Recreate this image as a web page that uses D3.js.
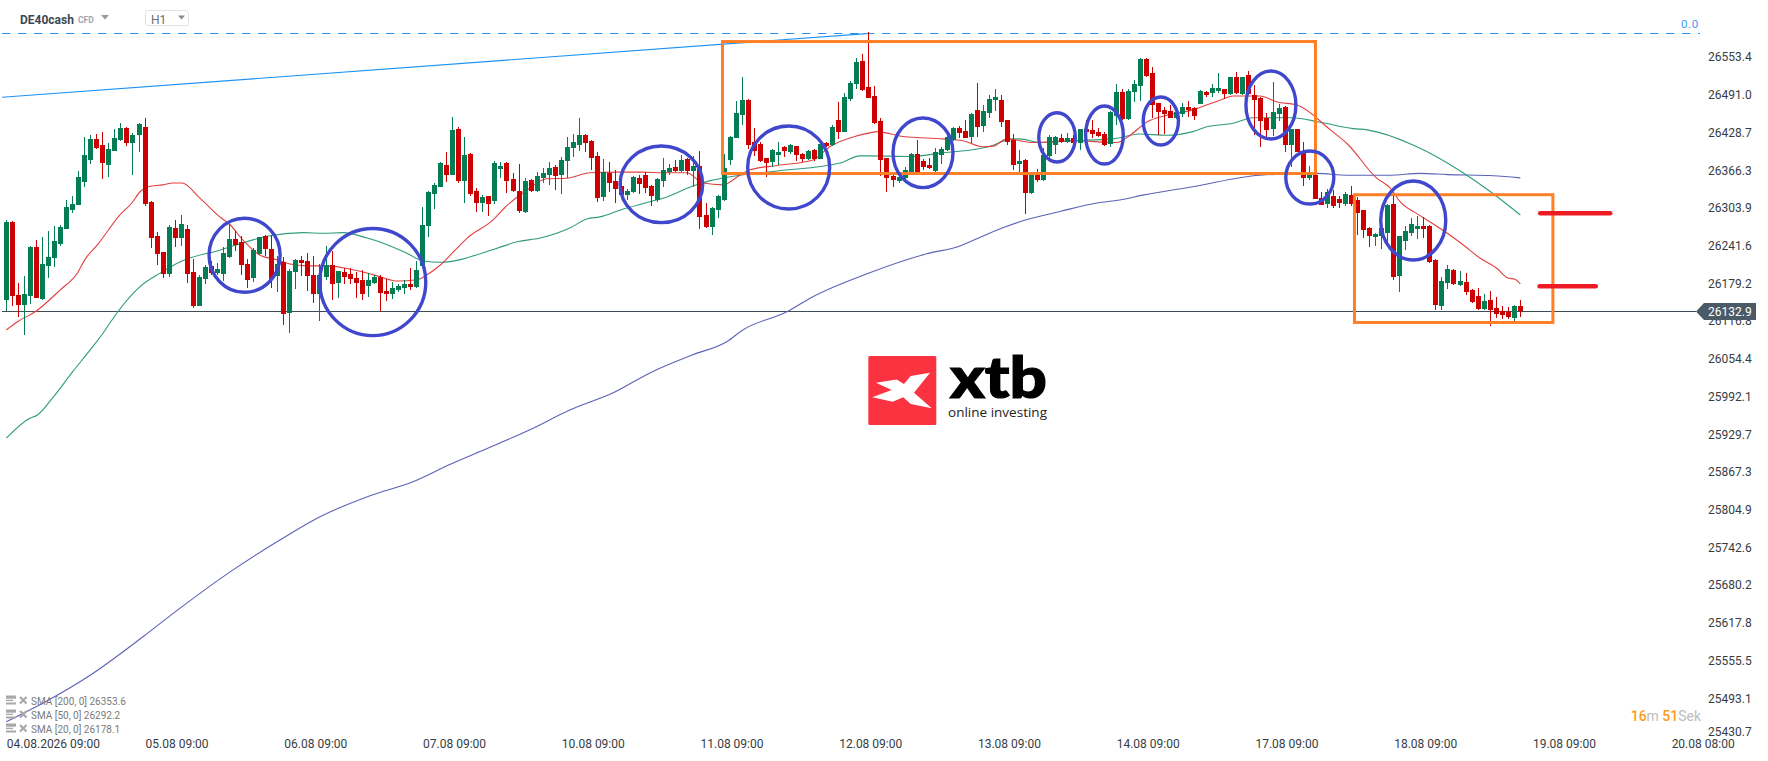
<!DOCTYPE html>
<html><head><meta charset="utf-8"><title>DE40cash</title>
<script src="https://cdnjs.cloudflare.com/ajax/libs/d3/7.8.5/d3.min.js"></script>
<style>html,body{margin:0;padding:0;background:#fff;overflow:hidden}svg{display:block;font-family:Roboto,sans-serif}</style>
</head><body><svg id="c" width="1768" height="761"></svg>
<script>
const open=[
26152,26281,26160,26144,26158,26239,26153,26208,26221,26244,
26269,26300,26309,26347,26383,26418,26408,26375,26398,26416,
26436,26411,26425,26437,26314,26257,26231,26194,26271,26254,
26269,26198,26142,26186,26208,26196,26194,26222,26252,26248,
26211,26188,26227,26257,26236,26191,26214,26130,26198,26218,
26216,26193,26161,26190,26210,26180,26198,26194,26188,26185,
26175,26180,26190,26166,26161,26168,26171,26178,26173,26208,
26274,26327,26338,26375,26358,26434,26348,26393,26332,26312,
26323,26315,26368,26378,26352,26332,26297,26350,26332,26353,
26358,26372,26358,26381,26403,26408,26425,26414,26390,26322,
26362,26348,26340,26325,26330,26353,26358,26340,26317,26348,
26363,26372,26365,26385,26365,26373,26292,26272,26300,26317,
26383,26420,26458,26482,26413,26410,26386,26380,26392,26405,
26397,26406,26393,26385,26400,26385,26411,26408,26449,26430,
26484,26509,26547,26504,26489,26448,26386,26357,26348,26353,
26362,26393,26381,26375,26365,26392,26400,26416,26436,26431,
26421,26466,26439,26461,26482,26482,26449,26416,26376,26383,
26328,26360,26350,26390,26408,26420,26413,26420,26411,26434,
26433,26430,26426,26410,26456,26496,26451,26496,26505,26550,
26527,26477,26466,26464,26453,26459,26471,26469,26476,26496,
26494,26497,26500,26492,26520,26492,26524,26491,26486,26453,
26434,26459,26471,26408,26434,26397,26353,26358,26320,26310,
26323,26319,26310,26325,26317,26300,26271,26256,26257,26262,
26310,26191,26249,26262,26269,26274,26274,26218,26142,26180,
26201,26176,26181,26168,26158,26137,26152,26138,26133,26132,
26122,26142];
const high=[
26284,26283,26180,26191,26241,26251,26255,26265,26274,26276,
26317,26323,26365,26421,26425,26426,26430,26411,26435,26444,
26437,26428,26444,26453,26315,26264,26231,26276,26284,26292,
26276,26220,26193,26210,26216,26213,26239,26277,26265,26257,
26220,26238,26256,26259,26259,26224,26222,26203,26220,26224,
26229,26224,26211,26241,26233,26200,26205,26205,26198,26201,
26196,26193,26193,26186,26181,26178,26185,26205,26216,26305,
26332,26345,26380,26397,26454,26437,26421,26394,26337,26325,
26324,26381,26380,26380,26362,26376,26353,26352,26363,26370,
26380,26375,26388,26421,26426,26453,26426,26416,26397,26385,
26380,26367,26350,26335,26357,26358,26363,26342,26353,26386,
26376,26383,26392,26386,26390,26398,26312,26305,26325,26393,
26423,26481,26520,26484,26436,26413,26387,26401,26413,26406,
26409,26407,26395,26399,26401,26411,26413,26441,26479,26494,
26514,26552,26558,26595,26505,26453,26387,26358,26362,26372,
26394,26416,26385,26386,26403,26405,26425,26437,26439,26449,
26461,26510,26474,26491,26500,26491,26450,26426,26400,26384,
26359,26368,26403,26425,26422,26426,26428,26425,26435,26449,
26449,26436,26430,26464,26509,26500,26500,26515,26551,26552,
26537,26478,26471,26474,26464,26477,26481,26470,26499,26497,
26509,26527,26501,26521,26529,26521,26530,26507,26487,26461,
26512,26476,26472,26435,26435,26413,26373,26362,26330,26335,
26333,26323,26330,26340,26322,26301,26272,26262,26284,26310,
26323,26258,26274,26287,26290,26289,26275,26219,26190,26210,
26203,26199,26196,26170,26171,26161,26166,26156,26142,26140,
26143,26152];
const low=[
26133,26142,26123,26094,26145,26155,26152,26188,26206,26241,
26269,26295,26309,26338,26376,26401,26352,26355,26398,26414,
26406,26359,26397,26307,26238,26210,26188,26190,26239,26241,
26180,26138,26142,26178,26193,26193,26183,26221,26233,26193,
26171,26181,26226,26224,26171,26165,26110,26097,26170,26191,
26166,26147,26117,26185,26152,26155,26178,26178,26155,26152,
26156,26178,26133,26150,26153,26165,26161,26168,26172,26207,
26255,26302,26338,26347,26358,26345,26312,26323,26297,26297,
26290,26310,26353,26328,26330,26295,26296,26331,26331,26345,
26342,26333,26327,26353,26388,26398,26397,26367,26314,26315,
26330,26312,26322,26317,26328,26327,26328,26307,26314,26338,
26358,26363,26363,26358,26338,26269,26271,26259,26287,26316,
26375,26419,26441,26401,26390,26380,26355,26372,26375,26388,
26393,26381,26380,26383,26381,26384,26405,26406,26418,26429,
26481,26500,26498,26485,26443,26357,26330,26338,26345,26352,
26361,26362,26367,26369,26363,26376,26398,26414,26420,26419,
26411,26421,26430,26453,26464,26437,26408,26367,26362,26294,
26327,26347,26349,26386,26393,26411,26411,26410,26400,26428,
26420,26421,26407,26405,26441,26449,26449,26479,26481,26521,
26453,26425,26426,26452,26451,26454,26454,26449,26475,26487,
26487,26494,26484,26491,26493,26491,26491,26425,26405,26420,
26423,26448,26397,26372,26396,26340,26350,26318,26308,26304,
26304,26304,26307,26307,26259,26254,26239,26241,26236,26243,
26185,26165,26234,26257,26252,26254,26213,26135,26135,26170,
26177,26175,26160,26147,26135,26135,26108,26122,26120,26120,
26117,26123];
const close=[
26281,26158,26144,26161,26239,26155,26211,26222,26249,26272,
26305,26310,26355,26392,26418,26403,26378,26401,26420,26436,
26411,26425,26442,26310,26254,26227,26194,26272,26254,26277,
26194,26142,26190,26206,26196,26203,26229,26252,26243,26210,
26185,26234,26255,26236,26186,26211,26128,26199,26218,26213,
26191,26161,26193,26210,26178,26199,26190,26186,26180,26161,
26185,26190,26163,26161,26171,26175,26178,26173,26201,26276,
26330,26342,26378,26358,26433,26348,26392,26327,26312,26322,
26310,26378,26373,26348,26332,26299,26348,26332,26357,26362,
26370,26357,26383,26405,26413,26425,26411,26386,26320,26363,
26345,26335,26325,26332,26355,26343,26337,26323,26352,26367,
26370,26365,26383,26365,26373,26289,26272,26304,26323,26370,
26421,26461,26482,26408,26398,26381,26378,26400,26397,26398,
26408,26392,26385,26398,26385,26410,26406,26437,26430,26487,
26510,26545,26499,26486,26444,26383,26353,26350,26355,26367,
26393,26363,26372,26370,26397,26401,26421,26436,26428,26420,
26459,26437,26464,26484,26487,26446,26413,26375,26381,26328,
26358,26350,26392,26421,26421,26413,26420,26411,26434,26430,
26426,26423,26408,26462,26496,26451,26497,26509,26550,26522,
26474,26462,26459,26453,26462,26471,26466,26456,26497,26491,
26502,26502,26492,26520,26494,26520,26492,26482,26448,26433,
26462,26469,26408,26434,26397,26354,26360,26319,26309,26330,
26307,26312,26327,26310,26295,26267,26257,26261,26271,26309,
26190,26257,26265,26277,26274,26269,26214,26144,26183,26203,
26178,26183,26165,26148,26137,26150,26135,26128,26127,26123,
26142,26132.9];

const sma20Bar=[0,1.9,4.9,8.9,11.9,13,15.2,18.8,20.8,22.2,23.5,26,27.6,29.1,32.1,35.4,37.1,39.2,42,44.9,47,49.8,53.2,55.8,59.1,62,64.8,68.1,69.7,71.9,74.4,76.4,80.7,82.7,86.3,89.6,92.9,96.8,101.2,105.5,108.9,112.8,115.5,118.8,121.6,123.3,127.8,133.7,136.5,141,143.2,144.3,148.7,155.3,158.6,161.8,163.6,165.9,170.2,176.8,184.1,186.3,189.1,192.4,196.7,201.2,203.4,207.8,210.7,214,219.5,222.3,227.2,229.4,231.1,233.9,235.5,238.9,241.5,244.3,247.1,248.9,250.1,251];
const sma20=[26102,26116,26133,26168,26198,26218,26244,26292,26312,26331,26339,26342,26345,26345,26320,26289,26276,26251,26226,26218,26211,26208,26208,26205,26198,26190,26183,26185,26193,26209,26234,26254,26284,26305,26333,26352,26353,26362,26363,26363,26362,26362,26345,26342,26358,26367,26374,26383,26405,26423,26428,26430,26422,26418,26415,26405,26406,26418,26412,26415,26412,26424,26446,26457,26466,26482,26489,26489,26479,26474,26433,26410,26353,26337,26314,26294,26284,26262,26243,26221,26204,26188,26186,26178.1];
const sma50Bar=[0,3.9,5.1,7.7,11,13.9,16.4,17.2,22.2,25.5,29.1,35.4,40.9,43.2,49.2,52.5,55.8,59.8,62.4,66.4,69.1,71.9,81,84.7,88.5,93.5,96.3,98.4,101.7,106.7,109.5,113.8,116.7,121.1,127.8,138.2,141.5,143.2,149.8,155.3,163.1,165.9,168,171.4,176.8,183.5,187.9,192.4,196.7,199,203.4,206.7,213.3,217.6,223.3,225.6,233.2,234.9,241.5,246,251];
const sma50=[25923,25956,25961,25990,26033,26069,26102,26114,26174,26196,26216,26234,26251,26257,26263,26262,26263,26254,26246,26229,26216,26214,26236,26248,26254,26271,26286,26289,26300,26314,26322,26340,26349,26357,26365,26378,26390,26390,26389,26395,26406,26416,26418,26412,26415,26418,26426,26424,26430,26438,26444,26453,26453,26446,26435,26433,26408,26400,26362,26331,26292.2];
const sma200Bar=[0,6.1,13.9,22.7,28.8,37.1,45.9,52,60.3,67.4,73.6,78.5,86.8,93.5,100.6,106.7,113.8,119.5,122.1,129.4,133.7,142.7,152.6,158.1,159.8,165.2,168,174.7,180.8,184.6,188.4,196.7,207.8,217.3,222.3,229.4,234.4,238.9,246.5,251];
const sma200=[25454,25485,25531,25595,25642,25702,25758,25793,25828,25851,25880,25901,25937,25970,25998,26031,26061,26083,26102,26132,26157,26195,26228,26241,26248,26271,26281,26298,26312,26317,26325,26339,26358,26361,26358,26358,26361,26359,26357,26353.6];

const priceTicks=[26553.4,26491.0,26428.7,26366.3,26303.9,26241.6,26179.2,26116.8,26054.4,25992.1,25929.7,25867.3,25804.9,25742.6,25680.2,25617.8,25555.5,25493.1,25430.7];
const timeTickBars=[0,23,46,69,92,115,138,161,184,207,230,253,276];
const timeTickLabels=["04.08.2026 09:00","05.08 09:00","06.08 09:00","07.08 09:00","10.08 09:00","11.08 09:00","12.08 09:00","13.08 09:00","14.08 09:00","17.08 09:00","18.08 09:00","19.08 09:00","20.08 08:00"];
const legendLabels=["SMA [200, 0] 26353.6","SMA [50, 0] 26292.2","SMA [20, 0] 26178.1"];
const lastPrice=26132.9, fibLevel=26592.6;
const trendBars=[-0.7,143.2], trendPrices=[26486.8,26592.6];
// hand-drawn annotations, in bar index and price
const ringBar=[39.5,60.75,108.6,129.7,151.97,174.2,182.05,191.4,209.65,216.1,233.25];
const ringPrice=[26225.5,26181.3,26342.9,26370.7,26395,26420.6,26424.4,26447.6,26474,26354.1,26283];
const ringRadiusBars=[5.89,8.79,6.85,6.8,4.97,3.03,3.12,2.92,4.14,3.98,5.39];
const ringRadiusPrice=[61.2,88.6,63.3,68.6,57.5,40.7,48,39.7,56.2,43.8,65.3];
const boxBars=[[118.73,217.04],[223.5,256.4]];
const boxPrices=[[26579,26360.8],[26325.7,26114.4]];
const markBars=[[254.3,265.9],[254.2,263.5]];
const markPrices=[26295,26174.2];

const x=d3.scaleLinear().domain([0,251]).range([6.33,1520.33]);
const y=d3.scaleLinear().domain([26179.2,25430.7]).range([283.3,735.9]);
const svg=d3.select("#c");
const UP="#047d55",DOWN="#cc0000";

// fib level and trend line
svg.append("line").attr("x1",2).attr("x2",1700).attr("y1",Math.floor(y(fibLevel))+.5).attr("y2",Math.floor(y(fibLevel))+.5)
  .attr("stroke","#2a8fe8").attr("stroke-width",1).attr("stroke-dasharray","8.4 7.6");
svg.append("text").attr("x",1681).attr("y",28).attr("font-size",11.5).attr("letter-spacing",.6).attr("fill","#3f9bf0").text("0.0");
svg.append("line").attr("x1",x(trendBars[0])).attr("y1",y(trendPrices[0])).attr("x2",x(trendBars[1])).attr("y2",y(trendPrices[1]))
  .attr("stroke","#1b93f5").attr("stroke-width",1.1);

// last price line
svg.append("line").attr("x1",2).attr("x2",1696).attr("y1",Math.floor(y(lastPrice))+.5).attr("y2",Math.floor(y(lastPrice))+.5)
  .attr("stroke","#3f4c58").attr("stroke-width",1);

// moving averages
const smaLine=d3.line().x(d=>x(d[0])).y(d=>y(d[1])).curve(d3.curveMonotoneX);
[[sma200Bar,sma200,"#5b63b7"],[sma50Bar,sma50,"#2f9c7a"],[sma20Bar,sma20,"#e2403f"]].forEach(([b,v,c])=>{
  svg.append("path").attr("d",smaLine(d3.zip(b,v))).attr("fill","none").attr("stroke",c).attr("stroke-width",1.1);
});

// candles
const bars=d3.range(open.length);
const g=svg.append("g").attr("shape-rendering","crispEdges");
g.selectAll("rect.w").data(bars).join("rect").attr("class","w")
  .attr("x",i=>Math.round(x(i)-.5)).attr("width",1)
  .attr("y",i=>Math.round(y(high[i]))).attr("height",i=>Math.max(1,Math.round(y(low[i]))-Math.round(y(high[i]))))
  .attr("fill",i=>close[i]>=open[i]?UP:DOWN);
g.selectAll("rect.b").data(bars).join("rect").attr("class","b")
  .attr("x",i=>Math.round(x(i)-.5)-2).attr("width",5)
  .attr("y",i=>Math.round(y(Math.max(open[i],close[i]))))
  .attr("height",i=>Math.max(2,Math.round(y(Math.min(open[i],close[i])))-Math.round(y(Math.max(open[i],close[i])))))
  .attr("fill",i=>close[i]>=open[i]?UP:DOWN);

// annotations
boxBars.forEach((b,k)=>{
  svg.append("rect").attr("x",x(b[0])).attr("y",y(boxPrices[k][0]))
    .attr("width",x(b[1])-x(b[0])).attr("height",y(boxPrices[k][1])-y(boxPrices[k][0]))
    .attr("fill","none").attr("stroke","#ff7f27").attr("stroke-width",3);
});
ringBar.forEach((b,k)=>{
  svg.append("ellipse").attr("cx",x(b)).attr("cy",y(ringPrice[k]))
    .attr("rx",x(ringRadiusBars[k])-x(0)).attr("ry",y(0)-y(ringRadiusPrice[k]))
    .attr("fill","none").attr("stroke","#3f48cc").attr("stroke-width",3.4);
});
markBars.forEach((b,k)=>{
  svg.append("line").attr("x1",x(b[0])).attr("x2",x(b[1])).attr("y1",y(markPrices[k])).attr("y2",y(markPrices[k]))
    .attr("stroke","#ed1c24").attr("stroke-width",4.6).attr("stroke-linecap","round");
});

// axes
const yAxis=d3.axisRight(y).tickValues(priceTicks).tickSize(0).tickPadding(0).tickFormat(d3.format(".1f"));
const ya=svg.append("g").attr("transform","translate(1708,0)").call(yAxis);
ya.select(".domain").remove();
ya.selectAll("text").attr("font-size",12).attr("font-family","Roboto").attr("fill","#363c44")
  .attr("dy",(d,i)=>i===priceTicks.length-1?"-0.02em":"0.32em");
const xAxis=d3.axisBottom(x).tickValues(timeTickBars).tickSize(0).tickPadding(0).tickFormat((d,i)=>timeTickLabels[i]);
const xa=svg.append("g").attr("transform","translate(0,739)").call(xAxis);
xa.select(".domain").remove();
xa.selectAll("text").attr("font-size",12).attr("font-family","Roboto").attr("fill","#363c44")
  .attr("text-anchor","start").attr("dy","0.71em");

// last price tag
svg.append("path").attr("d","M1696,311.5L1704,303H1756V320H1704Z").attr("fill","#4a5a66");
svg.append("text").attr("x",1708).attr("y",316).attr("font-size",12).attr("fill","#fff").text(lastPrice.toFixed(1));

// header
svg.append("text").attr("x",20).attr("y",23.5).attr("font-size",12).attr("font-weight",700).attr("fill","#3c4853").text("DE40cash");
svg.append("text").attr("x",78).attr("y",22.5).attr("font-size",8.5).attr("font-weight",700).attr("fill","#a0a5aa").text("CFD");
svg.append("path").attr("d","M101,15H109L105,19.5Z").attr("fill","#9a9a9a");
svg.append("rect").attr("x",145.5).attr("y",10.5).attr("width",43).attr("height",15).attr("rx",2).attr("fill","#fff").attr("stroke","#e2e2e2");
svg.append("text").attr("x",151).attr("y",24).attr("font-size",12).attr("fill","#6b6f73").text("H1");
svg.append("path").attr("d","M178,15.5H185L181.5,19.5Z").attr("fill","#8a8a8a");

// legend
legendLabels.forEach((t,k)=>{
  const yy=700.5+14*k;
  svg.append("rect").attr("x",6).attr("y",yy-5).attr("width",10).attr("height",3.2).attr("fill","#a8a8a8");
  svg.append("rect").attr("x",6).attr("y",yy-.8).attr("width",7).attr("height",1.4).attr("fill","#a8a8a8");
  svg.append("rect").attr("x",6).attr("y",yy+2).attr("width",10).attr("height",2).attr("fill","#a8a8a8");
  svg.append("path").attr("d",`M20,${yy-3.5}L26.5,${yy+3}M26.5,${yy-3.5}L20,${yy+3}`).attr("stroke","#a8a8a8").attr("stroke-width",2.2);
  svg.append("text").attr("x",31).attr("y",yy+4).attr("font-size",10).attr("fill","#7a7a7a").text(t);
});

// logo
svg.append("rect").attr("x",868.3).attr("y",356).attr("width",68).attr("height",69).attr("rx",1.5).attr("fill","#fb3340");
svg.append("polygon").attr("fill","#fff").attr("points","876,382.7 896.7,379.5 904,384 910.7,376 930,372.7 914,392.7 931.7,408.3 910.7,404 903.3,397.3 892.7,401.7 872.3,397.3 891.7,390");
svg.append("text").attr("x",950).attr("y",398).attr("font-family","Lato").attr("font-weight",900).attr("font-size",58)
  .attr("textLength",97).attr("lengthAdjust","spacingAndGlyphs").attr("fill","#000").attr("stroke","#000").attr("stroke-width",1.2).text("xtb");
svg.append("text").attr("x",948).attr("y",417).attr("font-family","'Open Sans'").attr("font-weight",400).attr("font-size",13.5)
  .attr("textLength",99).attr("lengthAdjust","spacingAndGlyphs").attr("fill","#222").text("online investing");

// countdown
const timer=svg.append("text").attr("x",1630.7).attr("y",720.5).attr("font-size",14);
[["16","#ff9a1f",500],["m ","#bdbdbd",400],["51","#ff9a1f",500],["Sek","#bdbdbd",400]].forEach(([t,c,w])=>{
  timer.append("tspan").attr("fill",c).attr("font-weight",w).text(t);
});
</script></body></html>
